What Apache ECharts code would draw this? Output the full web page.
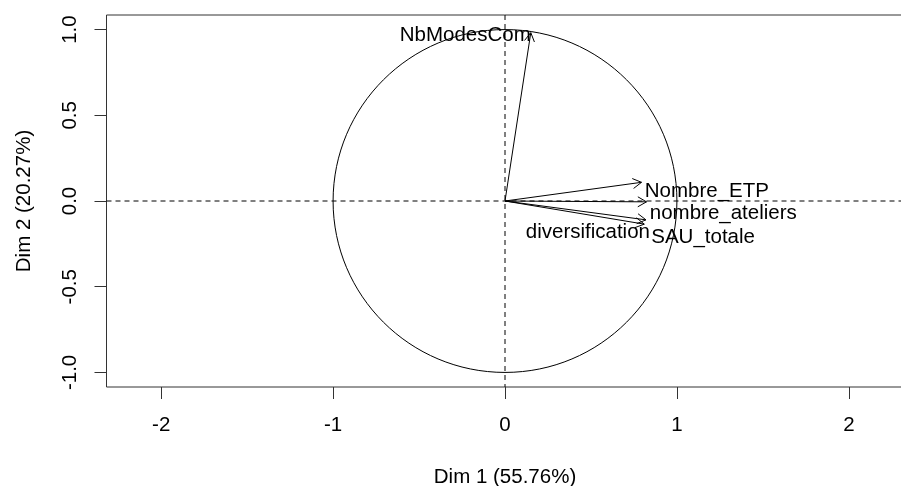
<!DOCTYPE html>
<html><head><meta charset="utf-8">
<script src="https://cdn.jsdelivr.net/npm/echarts@6/dist/echarts.min.js"></script>
<style>html,body{margin:0;padding:0;background:#fff}#c{width:901px;height:486px}</style>
</head><body><div id="c"></div>
<script>
// ---- data ----
const variables = ['NbModesCom', 'Nombre_ETP', 'nombre_ateliers', 'diversification', 'SAU_totale'];
const dim1 = [0.150, 0.794, 0.823, 0.820, 0.810];
const dim2 = [0.982, 0.109, -0.005, -0.110, -0.135];
const xTicks = [-2, -1, 0, 1, 2];
const yTicks = [-1, -0.5, 0, 0.5, 1];
const xTitle = 'Dim 1 (55.76%)';
const yTitle = 'Dim 2 (20.27%)';
const circleRadius = [1];

// ---- styles: label placement relative to arrow tip (pixels) ----
const labelPlacement = {
  NbModesCom:      { dx: 0,   dy: 2.4,  align: 'right' },
  Nombre_ETP:      { dx: 3.3, dy: 9.3,  align: 'left' },
  nombre_ateliers: { dx: 3.3, dy: 11.2, align: 'left' },
  diversification: { dx: 4,   dy: 12.8, align: 'right' },
  SAU_totale:      { dx: 7,   dy: 13.2, align: 'left' }
};
const FONT = '"Liberation Sans", Arial, sans-serif';
const FS = 20.5;

const chart = echarts.init(document.getElementById('c'), null, { renderer: 'canvas' });

chart.setOption({
  animation: false,
  backgroundColor: '#fff',
  grid: { left: 106.5, top: 15, width: 797, height: 372, show: true, borderColor: '#333', borderWidth: 1,
          backgroundColor: 'transparent', containLabel: false, outerBoundsMode: 'none' },
  xAxis: {
    type: 'value', min: -2.318, max: 2.318,
    axisLine: { show: false, onZero: false },
    axisTick: { show: true, length: 12, lineStyle: { color: '#333', width: 1 }, customValues: xTicks },
    axisLabel: { customValues: xTicks, margin: 28, fontSize: FS, fontFamily: FONT, color: '#000' },
    splitLine: { show: false },
    name: xTitle, nameLocation: 'middle', nameGap: 80,
    nameTextStyle: { fontSize: FS, fontFamily: FONT, color: '#000' }
  },
  yAxis: {
    type: 'value', min: -1.085, max: 1.085,
    axisLine: { show: false, onZero: false },
    axisTick: { show: true, length: 12, lineStyle: { color: '#333', width: 1 }, customValues: yTicks },
    axisLabel: { customValues: yTicks, rotate: 90, margin: 26, fontSize: FS, fontFamily: FONT, color: '#000',
                 formatter: v => Number(v).toFixed(1) },
    splitLine: { show: false },
    name: yTitle, nameLocation: 'middle', nameGap: 72,
    nameTextStyle: { fontSize: FS, fontFamily: FONT, color: '#000' }
  },
  series: [
    {
      type: 'custom',
      silent: true,
      data: circleRadius.map(r => [0, 0, r]),
      renderItem: function (params, api) {
        const c = api.coord([api.value(0), api.value(1)]);
        const s = api.size([api.value(2), api.value(2)]);
        const cs = params.coordSys;
        return {
          type: 'group',
          children: [
            { type: 'ellipse', shape: { cx: c[0], cy: c[1], rx: s[0], ry: s[1] },
              style: { fill: 'none', stroke: '#000', lineWidth: 1 } },
            { type: 'line', shape: { x1: cs.x, y1: c[1], x2: cs.x + cs.width, y2: c[1] },
              style: { stroke: '#000', lineWidth: 1, lineDash: [5, 4] } },
            { type: 'line', shape: { x1: c[0], y1: cs.y, x2: c[0], y2: cs.y + cs.height },
              style: { stroke: '#000', lineWidth: 1, lineDash: [5, 4] } }
          ]
        };
      }
    },
    {
      type: 'custom',
      silent: true,
      data: variables.map((v, i) => [dim1[i], dim2[i]]),
      renderItem: function (params, api) {
        const o = api.coord([0, 0]);
        const p = api.coord([api.value(0), api.value(1)]);
        const name = variables[params.dataIndex];
        const ang = Math.atan2(p[1] - o[1], p[0] - o[0]);
        const L = 10, a = Math.PI / 6;
        const h1 = [p[0] - L * Math.cos(ang - a), p[1] - L * Math.sin(ang - a)];
        const h2 = [p[0] - L * Math.cos(ang + a), p[1] - L * Math.sin(ang + a)];
        const lp = labelPlacement[name];
        return {
          type: 'group',
          children: [
            { type: 'line', shape: { x1: o[0], y1: o[1], x2: p[0], y2: p[1] }, style: { stroke: '#000', lineWidth: 1 } },
            { type: 'polyline', shape: { points: [h1, p, h2] }, style: { stroke: '#000', fill: 'none', lineWidth: 1 } },
            { type: 'text', x: p[0] + lp.dx, y: p[1] + lp.dy,
              style: { text: name, fontSize: FS, fontFamily: FONT, fill: '#000', align: lp.align, verticalAlign: 'middle' } }
          ]
        };
      }
    }
  ]
});
</script></body></html>
